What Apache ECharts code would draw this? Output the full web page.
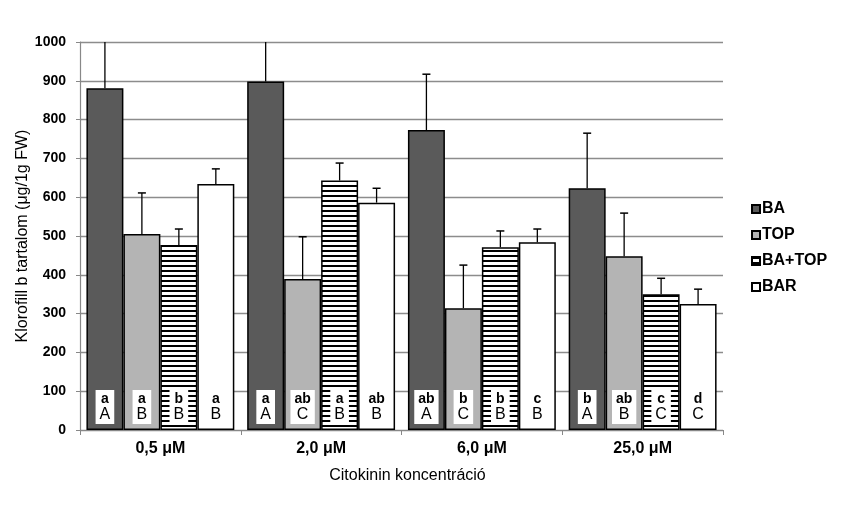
<!DOCTYPE html>
<html>
<head>
<meta charset="utf-8">
<script src="https://cdn.jsdelivr.net/npm/echarts@6/dist/echarts.min.js"></script>
<style>
  html, body { margin: 0; padding: 0; background: #fff; }
  #chart { width: 846px; height: 506px; }
</style>
</head>
<body>
<div id="chart"></div>
<script>
const categories = ['0,5 μM', '2,0 μM', '6,0 μM', '25,0 μM']
const seriesNames = ['BA', 'TOP', 'BA+TOP', 'BAR']

const baVals = [881, 898, 773, 623]
const baErr = [230, 220, 144, 142]
const topVals = [505, 389, 314, 448]
const topErr = [106, 109, 111, 111]
const baTopVals = [477, 643, 471, 350]
const baTopErr = [41, 45, 42, 41]
const barVals = [634, 586, 484, 325]
const barErr = [39, 37, 34, 38]

// significance letters (lower = within concentration, upper = within cytokinin)
const baLower = ['a', 'a', 'ab', 'b']
const baUpper = ['A', 'A', 'A', 'A']
const topLower = ['a', 'ab', 'b', 'ab']
const topUpper = ['B', 'C', 'C', 'B']
const baTopLower = ['b', 'a', 'b', 'c']
const baTopUpper = ['B', 'B', 'B', 'C']
const barLower = ['a', 'ab', 'c', 'd']
const barUpper = ['B', 'B', 'B', 'C']

const yTicks = { min: 0, max: 1000, interval: 100 }

const FONT = 'Liberation Sans, Arial, sans-serif'

// horizontal stripes for BA+TOP
const hatch = document.createElement('canvas')
hatch.width = 4
hatch.height = 5
const hctx = hatch.getContext('2d')
hctx.fillStyle = '#fff'
hctx.fillRect(0, 0, 4, 5)
hctx.fillStyle = '#000'
hctx.fillRect(0, 0, 4, 2)

const CAT_GAP = 0.08

function barSeries(name, values, lower, upper, color) {
  return {
    name: name,
    type: 'bar',
    data: values,
    barGap: '0%',
    barCategoryGap: (CAT_GAP * 100) + '%',
    itemStyle: { color: color, borderColor: '#000', borderWidth: 1.5 },
    label: {
      show: true,
      position: 'insideBottom',
      distance: 6,
      backgroundColor: '#fff',
      padding: [2, 4, 1, 4],
      formatter: p => '{l|' + lower[p.dataIndex] + '}\n{u|' + upper[p.dataIndex] + '}',
      rich: {
        l: { fontFamily: FONT, fontSize: 14, fontWeight: 'bold', color: '#000', lineHeight: 14, align: 'center' },
        u: { fontFamily: FONT, fontSize: 16, color: '#000', lineHeight: 17, align: 'center' }
      }
    },
    emphasis: { disabled: true }
  }
}

function errSeries(k, values, errs) {
  return {
    type: 'custom',
    clip: true,
    z: 3,
    data: values.map((v, i) => [i, v, errs[i]]),
    encode: { x: 0, y: 1 },
    renderItem(params, api) {
      const xi = api.value(0)
      const v = api.value(1)
      const e = api.value(2)
      const p0 = api.coord([xi, v])
      const p1 = api.coord([xi, v + e])
      const bw = api.size([1, 0])[0] * (1 - CAT_GAP) / 4
      const x = p0[0] + (k - 1.5) * bw
      return {
        type: 'group',
        children: [
          { type: 'line', shape: { x1: x, y1: p0[1], x2: x, y2: p1[1] }, style: { stroke: '#000', lineWidth: 1.3 } },
          { type: 'line', shape: { x1: x - 4, y1: p1[1], x2: x + 4, y2: p1[1] }, style: { stroke: '#000', lineWidth: 1.5 } }
        ]
      }
    }
  }
}

const chart = echarts.init(document.getElementById('chart'))
chart.setOption({
  backgroundColor: '#fff',
  animation: false,
  textStyle: { fontFamily: FONT },
  grid: { left: 80, right: 123, top: 42, bottom: 76 },
  legend: {
    orient: 'vertical',
    left: 746,
    top: 196,
    itemWidth: 8,
    itemHeight: 8,
    itemGap: 10,
    icon: 'rect',
    data: seriesNames,
    textStyle: { fontFamily: FONT, fontSize: 16, fontWeight: 'bold', color: '#000', padding: [0, 0, 0, -3] }
  },
  xAxis: {
    type: 'category',
    data: categories,
    name: 'Citokinin koncentráció',
    nameLocation: 'middle',
    nameGap: 38,
    nameTextStyle: { fontFamily: FONT, fontSize: 16, color: '#000', padding: [0, 0, 0, 12] },
    axisLine: { lineStyle: { color: '#888', width: 1.2 } },
    axisTick: { show: true, length: 5, lineStyle: { color: '#888' } },
    axisLabel: { fontFamily: FONT, fontSize: 16, fontWeight: 'bold', color: '#000', margin: 11 }
  },
  yAxis: {
    type: 'value',
    min: yTicks.min,
    max: yTicks.max,
    interval: yTicks.interval,
    name: 'Klorofill b tartalom (μg/1g FW)',
    nameLocation: 'middle',
    nameGap: 49,
    nameMoveOverlap: false,
    nameTextStyle: { fontFamily: FONT, fontSize: 16, color: '#000' },
    axisLine: { show: true, lineStyle: { color: '#888', width: 1.2 } },
    axisTick: { show: true, length: 4, lineStyle: { color: '#888' } },
    axisLabel: { fontFamily: FONT, fontSize: 14, fontWeight: 'bold', color: '#000', margin: 14, formatter: v => String(v) },
    splitLine: { lineStyle: { color: '#8c8c8c', width: 1.3 } }
  },
  series: [
    barSeries('BA', baVals, baLower, baUpper, '#5a5a5a'),
    barSeries('TOP', topVals, topLower, topUpper, '#b4b4b4'),
    barSeries('BA+TOP', baTopVals, baTopLower, baTopUpper, { image: hatch, repeat: 'repeat' }),
    barSeries('BAR', barVals, barLower, barUpper, '#fff'),
    errSeries(0, baVals, baErr),
    errSeries(1, topVals, topErr),
    errSeries(2, baTopVals, baTopErr),
    errSeries(3, barVals, barErr)
  ]
})
</script>
</body>
</html>
